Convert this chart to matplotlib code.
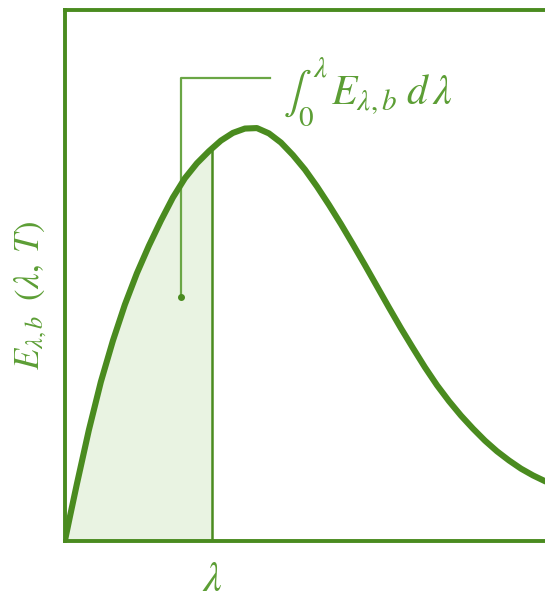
import matplotlib.pyplot as plt

plt.rcParams['mathtext.fontset'] = 'stix'

# curve (wavelength, spectral emissive power), arbitrary units
lam = [0.0, 0.1, 0.25, 0.5, 0.75, 1.0, 1.25, 1.5, 1.75, 2.0, 2.25, 2.5, 2.75,
       3.0, 3.25, 3.5, 3.75, 4.0, 4.25, 4.5, 4.75, 5.0, 5.25, 5.5, 5.75, 6.0,
       6.25, 6.5, 6.75, 7.0, 7.25, 7.5, 7.75, 8.0, 8.25, 8.5, 8.75, 9.0, 9.25,
       9.5, 9.75, 10.0, 10.2]
E = [0.0, 0.48, 1.18, 2.3, 3.3, 4.15, 4.9, 5.55, 6.12, 6.64, 7.12, 7.52, 7.83,
     8.08, 8.3, 8.46, 8.55, 8.56, 8.45, 8.26, 8.0, 7.7, 7.35, 6.97, 6.57, 6.15,
     5.72, 5.28, 4.84, 4.41, 4.0, 3.6, 3.23, 2.9, 2.6, 2.33, 2.08, 1.86, 1.67,
     1.5, 1.36, 1.24, 1.16]

lam_cut = 3.06      # the chosen wavelength, shaded up to here
E_cut = 8.13
note_x, note_y0, note_y1, note_x1 = 2.42, 5.05, 9.59, 4.27

green = '#4a8b1f'
text_green = '#5c9e35'

fig = plt.figure(figsize=(5.45, 6.03), dpi=100)
ax = fig.add_axes([0.119, 0.1028, 0.881, 0.880])

# shaded area under the curve up to lambda
shade_x = [x for x in lam if x <= lam_cut] + [lam_cut]
shade_y = E[:len(shade_x) - 1] + [E_cut]
ax.fill_between(shade_x, shade_y, 0, color='#e9f3e2', lw=0)

ax.plot(lam, E, color=green, lw=4.4, solid_capstyle='round', solid_joinstyle='round', zorder=3)
ax.plot([lam_cut, lam_cut], [0, E_cut], color=green, lw=1.8, zorder=2)

# bracket pointing into the shaded area
ax.plot([note_x, note_x, note_x1], [note_y0, note_y1, note_y1], color='#6aa645', lw=1.6)
ax.plot(note_x, note_y0, 'o', color=green, ms=4)
ax.text(4.55, 9.05, r'$\int_0^{\lambda}\, E_{\lambda,b}\;d\,\lambda$', color=text_green,
        fontsize=30, va='baseline', ha='left')

ax.set_xlim(0, 10)
ax.set_ylim(0, 11)
ax.set_xticks([lam_cut])
ax.set_xticklabels([r'$\lambda$'], fontsize=30, color=text_green)
ax.set_yticks([])
ax.tick_params(axis='x', length=0, pad=12)
ax.set_ylabel(r'$E_{\lambda,b}\;\;(\lambda,\;T)$', fontsize=25, color=text_green)
ax.yaxis.set_label_coords(-0.033, 0.463)

for side in ['left', 'top', 'bottom']:
    ax.spines[side].set_color(green)
    ax.spines[side].set_linewidth(2.8)
ax.spines['right'].set_visible(False)

fig.savefig('out.png', dpi=100)
